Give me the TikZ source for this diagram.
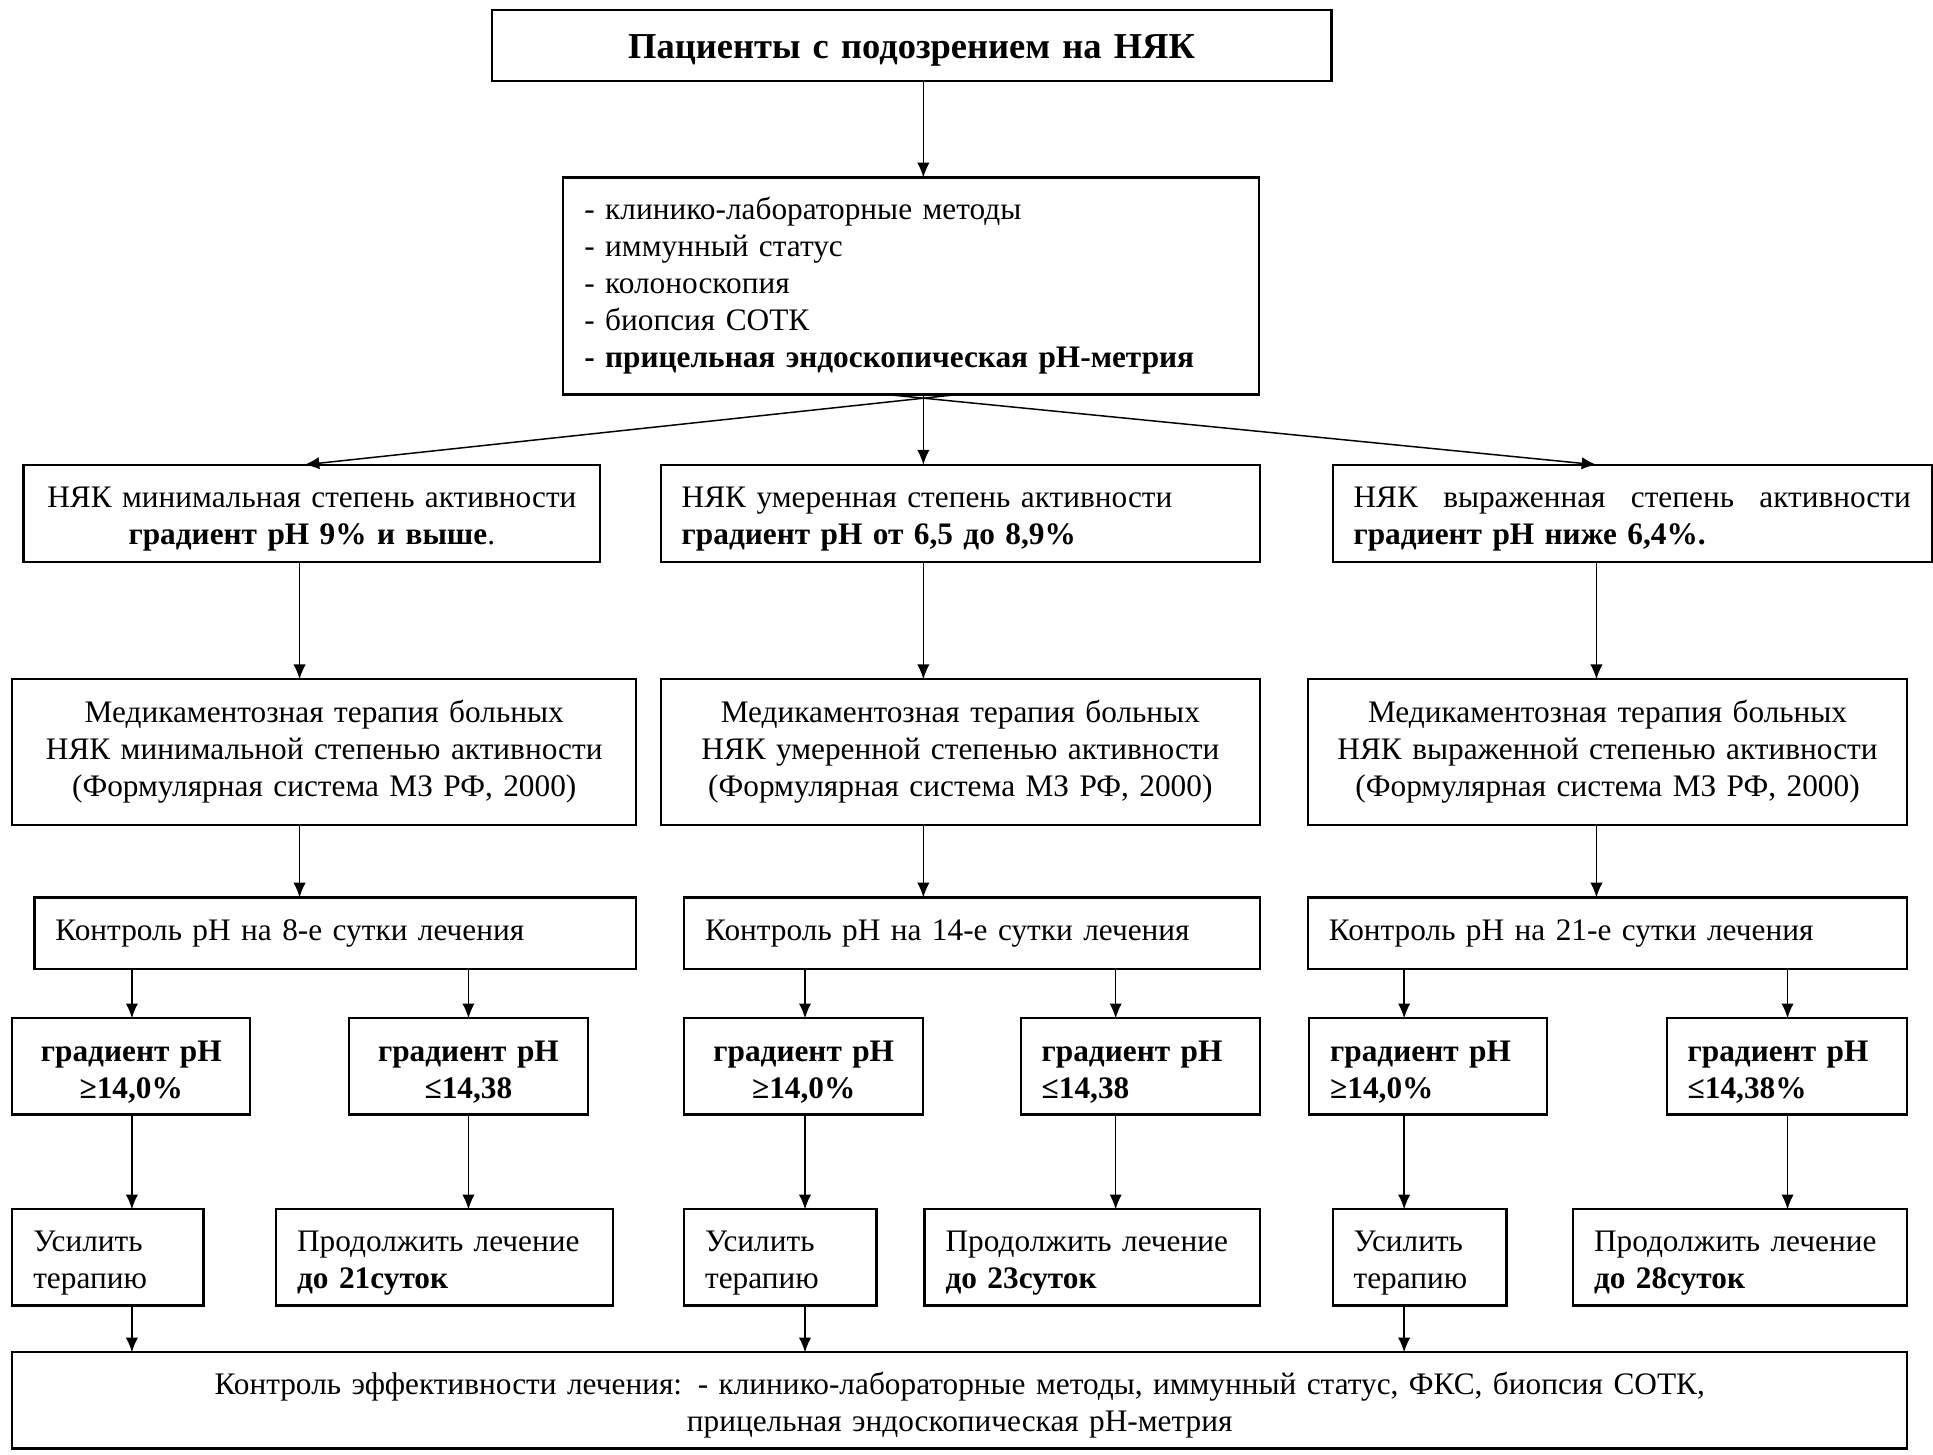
\documentclass[tikz,border=0pt]{standalone}
\usepackage{fontspec}
\setmainfont{Liberation Serif}
\usetikzlibrary{arrows.meta,calc}
\newcommand\bx[8][8.5]{%
  \pgfmathsetmacro\bxw{(#5-#3)*0.5}%
  \pgfmathsetmacro\bxh{(#6-#4)*0.5}%
  \pgfmathsetmacro\bxt{(#5-#3)*0.5-2*#1}%
  \node[box,inner xsep=#1pt,minimum width=\bxw pt,minimum height=\bxh pt,text width=\bxt pt,#7] (#2) at (#3,#4) {#8};}
\newcommand\dn{\rule{0pt}{13pt}}
\begin{document}
\begin{tikzpicture}[x=0.5pt,y=-0.5pt,
  box/.style={draw,line width=0.9pt,inner ysep=0pt,outer sep=0pt,anchor=north west,font=\fontsize{12.7}{15}\selectfont},
  bb/.style={font=\fontsize{12.7}{15}\selectfont\bfseries},
  arr/.style={-{Latex[length=6pt,width=5pt]},line width=0.6pt}]
\useasboundingbox (0,0) rectangle (1568,1180);
% columns
\coordinate (cM) at (749,0);
\coordinate (cA) at (243,0);
\coordinate (cAd) at (247,0);
\coordinate (cC) at (1295,0);
\coordinate (s1) at (107,0);
\coordinate (s2) at (380,0);
\coordinate (s3) at (653,0);
\coordinate (s4) at (905,0);
\coordinate (s5) at (1139,0);
\coordinate (s6) at (1450,0);

\bx[3]{top}{399}{8}{1080}{66}{align=center,font=\fontsize{14.8}{17}\selectfont\bfseries}{\rule{0pt}{14pt}Пациенты с подозрением на НЯК}
\bx{meth}{457}{144}{1021}{320}{align=left}{- клинико-лабораторные методы\\- иммунный статус\\- колоноскопия\\- биопсия СОТК\\\textbf{- прицельная эндоскопическая pH-метрия}}

\bx[3]{r1a}{19}{377}{487}{456}{align=center}{\dn НЯК минимальная степень активности\\\textbf{градиент pH 9\% и выше}.}
\bx{r1b}{536}{377}{1022}{456}{align=left}{\dn НЯК умеренная степень активности\\\textbf{градиент pH от 6,5 до 8,9\%}}
\bx{r1c}{1081}{377}{1567}{456}{align=left}{\makebox[\linewidth][s]{\dn НЯК\hfill выраженная\hfill степень\hfill активности}\\\textbf{градиент pH ниже 6,4\%.}}

\bx[3]{r2a}{10}{551}{516}{669}{align=center}{Медикаментозная терапия больных\\НЯК минимальной степенью активности\\(Формулярная система МЗ РФ, 2000)}
\bx[3]{r2b}{536}{551}{1022}{669}{align=center}{Медикаментозная терапия больных\\НЯК умеренной степенью активности\\(Формулярная система МЗ РФ, 2000)}
\bx[3]{r2c}{1061}{551}{1547}{669}{align=center}{Медикаментозная терапия больных\\НЯК выраженной степенью активности\\(Формулярная система МЗ РФ, 2000)}

\bx{r3a}{28}{728}{516}{786}{align=left}{Контроль pH на 8-е сутки лечения}
\bx{r3b}{555}{728}{1022}{786}{align=left}{Контроль pH на 14-е сутки лечения}
\bx{r3c}{1061}{728}{1547}{786}{align=left}{Контроль pH на 21-е сутки лечения}

\bx[3]{g1}{10}{826}{203}{904}{align=center,bb}{\dn градиент pH\\≥14,0\%}
\bx[3]{g2}{283}{826}{477}{904}{align=center,bb}{\dn градиент pH\\≤14,38}
\bx[3]{g3}{555}{826}{749}{904}{align=center,bb}{\dn градиент pH\\≥14,0\%}
\bx{g4}{828}{826}{1022}{904}{align=left,bb}{\dn градиент pH\\≤14,38}
\bx{g5}{1062}{826}{1255}{904}{align=left,bb}{\dn градиент pH\\≥14,0\%}
\bx{g6}{1352}{826}{1547}{904}{align=left,bb}{\dn градиент pH\\≤14,38\%}

\bx{u1}{10}{981}{165}{1059}{align=left}{\dn\mbox{Усилить}\\\mbox{терапию}}
\bx{p1}{224}{981}{497}{1059}{align=left}{\dn\mbox{Продолжить лечение}\\\textbf{до 21суток}}
\bx{u2}{555}{981}{711}{1059}{align=left}{\dn\mbox{Усилить}\\\mbox{терапию}}
\bx{p2}{750}{981}{1022}{1059}{align=left}{\dn\mbox{Продолжить лечение}\\\textbf{до 23суток}}
\bx{u3}{1081}{981}{1222}{1059}{align=left}{\dn\mbox{Усилить}\\\mbox{терапию}}
\bx{p3}{1276}{981}{1547}{1059}{align=left}{\dn\mbox{Продолжить лечение}\\\textbf{до 28суток}}

\bx[3]{fin}{10}{1097}{1547}{1175}{align=center}{\dn Контроль эффективности лечения: - клинико-лабораторные методы, иммунный статус, ФКС, биопсия СОТК,\\прицельная эндоскопическая pH-метрия}

% connectors
\draw[arr] (top.south -| cM) -- (meth.north -| cM);
\draw[arr] ($(meth.south)+(38,0)$) -- (r1a.north -| cAd);
\draw[arr] (meth.south -| cM) -- (r1b.north -| cM);
\draw[arr] ($(meth.south)+(-20,0)$) -- (r1c.north -| cC);

\draw[arr] (r1a.south -| cA) -- (r2a.north -| cA);
\draw[arr] (r1b.south -| cM) -- (r2b.north -| cM);
\draw[arr] (r1c.south -| cC) -- (r2c.north -| cC);

\draw[arr] (r2a.south -| cA) -- (r3a.north -| cA);
\draw[arr] (r2b.south -| cM) -- (r3b.north -| cM);
\draw[arr] (r2c.south -| cC) -- (r3c.north -| cC);

\draw[arr] (r3a.south -| s1) -- (g1.north -| s1);
\draw[arr] (r3a.south -| s2) -- (g2.north -| s2);
\draw[arr] (r3b.south -| s3) -- (g3.north -| s3);
\draw[arr] (r3b.south -| s4) -- (g4.north -| s4);
\draw[arr] (r3c.south -| s5) -- (g5.north -| s5);
\draw[arr] (r3c.south -| s6) -- (g6.north -| s6);

\draw[arr] (g1.south -| s1) -- (u1.north -| s1);
\draw[arr] (g2.south -| s2) -- (p1.north -| s2);
\draw[arr] (g3.south -| s3) -- (u2.north -| s3);
\draw[arr] (g4.south -| s4) -- (p2.north -| s4);
\draw[arr] (g5.south -| s5) -- (u3.north -| s5);
\draw[arr] (g6.south -| s6) -- (p3.north -| s6);

\draw[arr] (u1.south -| s1) -- (fin.north -| s1);
\draw[arr] (u2.south -| s3) -- (fin.north -| s3);
\draw[arr] (u3.south -| s5) -- (fin.north -| s5);
\end{tikzpicture}
\end{document}
